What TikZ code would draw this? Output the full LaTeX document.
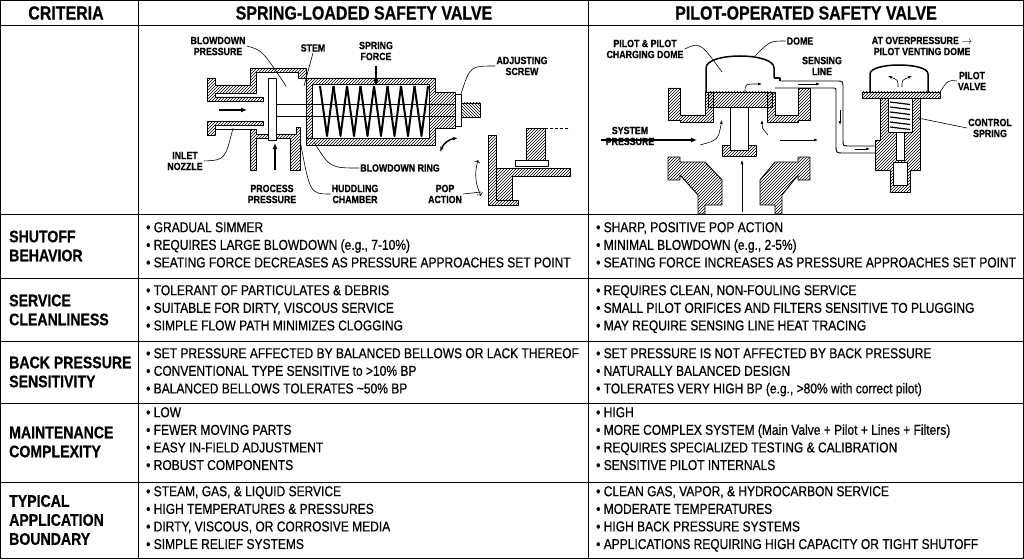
\documentclass[tikz,border=0pt]{standalone}
\usepackage{fontspec}
\setmainfont{Liberation Sans}[FakeStretch=0.84,FakeBold=0.6,BoldFeatures={FakeStretch=0.84}]
\usetikzlibrary{arrows.meta,patterns,positioning}
\tikzset{
  hdr/.style={font=\fontsize{19}{21}\selectfont\bfseries},
  crit/.style={font=\fontsize{16.8}{19}\selectfont\bfseries,align=left,anchor=west,inner sep=0pt},
  bul/.style={font=\fontsize{14.3}{17.6}\selectfont,align=left,anchor=north west,inner sep=0pt},
  lbl/.style={font=\fontsize{10.5}{11}\selectfont\bfseries,align=center,inner sep=1pt},
  hatch/.style={draw=black,line width=0.9pt,pattern=north east lines},
  ldr/.style={line width=0.6pt},
  flow/.style={-{Latex[length=6pt,width=5pt]},line width=1.6pt},
  thin/.style={-{Latex[length=4pt,width=3pt]},line width=0.6pt}
}
\begin{document}
\begin{tikzpicture}[x=1pt,y=-1pt,line join=round]
\useasboundingbox (0,0) rectangle (1024,559);
% grid
\draw[line width=1pt] (0.5,0.5) rectangle (1023.5,558.5);
\foreach \y in {26,214,278,341,403,482} \draw[line width=1pt] (0,\y) -- (1024,\y);
\draw[line width=1pt] (138,0) -- (138,559);
\draw[line width=1pt] (588,0) -- (588,559);
% header
\node[hdr] (h0) at (66,13) {CRITERIA};
\node[hdr] (h1) at (364,13) {SPRING-LOADED SAFETY VALVE};
\node[hdr] (h2) at (806,13) {PILOT-OPERATED SAFETY VALVE};
% criteria
\node[crit] (c1) at (9,246) {SHUTOFF\\BEHAVIOR};
\node[crit] (c2) at (9,310) {SERVICE\\CLEANLINESS};
\node[crit] (c3) at (9,372) {BACK PRESSURE\\SENSITIVITY};
\node[crit] (c4) at (9,442) {MAINTENANCE\\COMPLEXITY};
\node[crit] (c5) at (9,520) {TYPICAL\\APPLICATION\\BOUNDARY};
% spring-loaded column
\node[bul] (s1) at (146,222) {• GRADUAL SIMMER\\• REQUIRES LARGE BLOWDOWN (e.g., 7-10\%)\\• SEATING FORCE DECREASES AS PRESSURE APPROACHES SET POINT};
\node[bul] (s2) at (146,285) {• TOLERANT OF PARTICULATES \& DEBRIS\\• SUITABLE FOR DIRTY, VISCOUS SERVICE\\• SIMPLE FLOW PATH MINIMIZES CLOGGING};
\node[bul] (s3) at (146,348) {• SET PRESSURE AFFECTED BY BALANCED BELLOWS OR LACK THEREOF\\• CONVENTIONAL TYPE SENSITIVE to >10\% BP\\• BALANCED BELLOWS TOLERATES \textasciitilde50\% BP};
\node[bul] (s4) at (146,407) {• LOW\\• FEWER MOVING PARTS\\• EASY IN-FIELD ADJUSTMENT\\• ROBUST COMPONENTS};
\node[bul] (s5) at (146,486) {• STEAM, GAS, \& LIQUID SERVICE\\• HIGH TEMPERATURES \& PRESSURES\\• DIRTY, VISCOUS, OR CORROSIVE MEDIA\\• SIMPLE RELIEF SYSTEMS};
% pilot-operated column
\node[bul] (p1) at (596,222) {• SHARP, POSITIVE POP ACTION\\• MINIMAL BLOWDOWN (e.g., 2-5\%)\\• SEATING FORCE INCREASES AS PRESSURE APPROACHES SET POINT};
\node[bul] (p2) at (596,285) {• REQUIRES CLEAN, NON-FOULING SERVICE\\• SMALL PILOT ORIFICES AND FILTERS SENSITIVE TO PLUGGING\\• MAY REQUIRE SENSING LINE HEAT TRACING};
\node[bul] (p3) at (596,348) {• SET PRESSURE IS NOT AFFECTED BY BACK PRESSURE\\• NATURALLY BALANCED DESIGN\\• TOLERATES VERY HIGH BP (e.g., >80\% with correct pilot)};
\node[bul] (p4) at (596,407) {• HIGH\\• MORE COMPLEX SYSTEM (Main Valve + Pilot + Lines + Filters)\\• REQUIRES SPECIALIZED TESTING \& CALIBRATION\\• SENSITIVE PILOT INTERNALS};
\node[bul] (p5) at (596,486) {• CLEAN GAS, VAPOR, \& HYDROCARBON SERVICE\\• MODERATE TEMPERATURES\\• HIGH BACK PRESSURE SYSTEMS\\• APPLICATIONS REQUIRING HIGH CAPACITY OR TIGHT SHUTOFF};
% spring-loaded valve sketch
\draw[hatch] (207,78) -- (215,78) -- (215,85) -- (250,85) -- (250,68) -- (306,68) -- (306,78) -- (298,78) -- (298,72) -- (256,72) -- (256,93) -- (215,93) -- (215,97) -- (263,97) -- (263,101) -- (207,101) -- cycle;
\draw[hatch] (207,121) -- (263,121) -- (263,125) -- (215,125) -- (215,129) -- (250,129) -- (250,170) -- (256,170) -- (256,138) -- (290,138) -- (290,170) -- (300,170) -- (300,127) -- (296,127) -- (296,134) -- (256,134) -- (256,129) -- (215,129) -- (215,135) -- (207,135) -- cycle;
\draw[line width=0.9pt,fill=white] (268,78) rectangle (276,140);
\draw[line width=0.9pt,fill=white] (276,104) rectangle (455,116);
\draw[hatch] (306,78) -- (435,78) -- (435,92) -- (455,92) -- (455,128) -- (435,128) -- (435,145) -- (306,145) -- (306,138) -- (429,138) -- (429,84) -- (312,84) -- (312,138) -- (306,138) -- cycle;
\foreach \i in {0,...,7}
  \draw[line width=2pt] (320+13.5*\i,86) -- (327+13.5*\i,136) -- (333.5+13.5*\i,86);
\draw[line width=0.9pt,fill=white] (455,94) rectangle (461,126);
\draw[line width=0.9pt,pattern=north west lines] (461,103) rectangle (480,117);
\draw[flow] (219,110) -- (247,110);
\draw[flow] (275,170) -- (275,143);
\draw[flow] (376,66) -- (376,86);
\draw[{Latex[length=5pt]}-{Latex[length=5pt]},line width=1.5pt] (440,152) to[bend left=30] (458,138);
% pop action inset
\draw[hatch] (488,135) -- (496,135) -- (496,200) -- (518,200) -- (518,205) -- (488,205) -- cycle;
\draw[hatch] (496,168) -- (570,168) -- (570,176) -- (512,176) -- (512,200) -- (496,200) -- cycle;
\draw[hatch] (526,128) -- (545,128) -- (545,160) -- (526,160) -- cycle;
\draw[line width=0.9pt,fill=white] (515,160) rectangle (548,166);
\draw[line width=0.6pt,densely dashed] (545,128) -- (570,128);
\draw[thin,<->] (478,160) to[bend right=20] (481,196);
% spring-loaded labels
\node[lbl] (bp) at (218,46) {BLOWDOWN\\PRESSURE};
\node[lbl] (st) at (313,48) {STEM};
\node[lbl] (sf) at (376,51) {SPRING\\FORCE};
\node[lbl] (as) at (522,66) {ADJUSTING\\SCREW};
\node[lbl] (in) at (185,161) {INLET\\NOZZLE};
\node[lbl] (pp) at (272,194) {PROCESS\\PRESSURE};
\node[lbl] (hc) at (355,194) {HUDDLING\\CHAMBER};
\node[lbl] (br) at (400,168) {BLOWDOWN RING};
\node[lbl] (pa) at (445,194) {POP\\ACTION};
\coordinate (bpE) at (286,86);
\coordinate (stE) at (304,86);
\coordinate (asE) at (461,94);
\coordinate (inE) at (233,128);
\coordinate (hcE) at (300,140);
\coordinate (brE) at (314,142);
\coordinate (paE) at (481,192);
\draw[ldr] (bp.east) .. controls (262,50) .. (bpE);
\draw[ldr] (st.south) -- (stE);
\draw[ldr] (as.west) .. controls (470,66) .. (asE);
\draw[ldr] (in.east) .. controls (225,160) .. (inE);
\draw[ldr] (hc.west) .. controls (310,194) .. (hcE);
\draw[ldr] (br.west) .. controls (330,168) .. (brE);
\draw[ldr] (pa.east) -- (paE);
% pilot-operated valve sketch
\draw[hatch] (668,88) -- (680,88) -- (680,115) -- (705,115) -- (705,92) -- (713,92) -- (713,122) -- (680,122) -- (680,120) -- (668,120) -- cycle;
\draw[hatch] (810,88) -- (798,88) -- (798,115) -- (775,115) -- (775,92) -- (767,92) -- (767,122) -- (798,122) -- (798,120) -- (810,120) -- cycle;
\draw[hatch] (668,157) -- (680,157) -- (680,162) -- (705,162) -- (722,180) -- (722,205) -- (705,205) -- (705,214) -- (698,214) -- (698,195) -- (680,175) -- (680,180) -- (668,180) -- cycle;
\draw[hatch] (810,157) -- (798,157) -- (798,162) -- (775,162) -- (760,180) -- (760,205) -- (775,205) -- (775,214) -- (782,214) -- (782,195) -- (798,175) -- (798,180) -- (810,180) -- cycle;
\draw[hatch] (708,92) rectangle (772,107);
\draw[line width=0.9pt,fill=white] (730,107) rectangle (748,150);
\draw[hatch] (722,145) -- (730,145) -- (730,150) -- (748,150) -- (748,145) -- (756,145) -- (756,156) -- (722,156) -- cycle;
\draw[line width=1.5pt] (706,92) -- (706,68) .. controls (706,52) and (774,52) .. (774,68) -- (774,78);
\draw[line width=1.5pt] (774,78) -- (780,78) -- (780,81);
\draw[line width=0.9pt] (780,81) -- (836,81) .. controls (843,81) .. (843,88) -- (843,140) .. controls (843,146) .. (849,146) -- (876,146);
\draw[line width=0.9pt] (775,88) -- (832,88) .. controls (836,88) .. (836,92) -- (836,145) .. controls (836,153) .. (844,153) -- (876,153);
\draw[thin] (745,92) .. controls (745,84) .. (762,84);
\draw[thin] (798,84) -- (820,84);
\draw[thin] (840,110) -- (840,125);
\draw[thin] (855,149) -- (870,149);
\draw[flow] (601,140) -- (697,140);
\draw[thin] (700,145) .. controls (718,140) .. (722,120);
\draw[thin] (768,135) .. controls (762,128) .. (762,120);
\draw[thin] (780,140) -- (818,140);
\draw[thin] (742,212) -- (742,160);
% pilot valve
\draw[line width=1.5pt] (870,92) -- (870,74) .. controls (870,62) and (928,62) .. (928,74) -- (928,92);
\draw[hatch] (862,92) rectangle (940,98);
\draw[hatch] (880,98) -- (920,98) -- (920,170) -- (910,170) -- (910,192) -- (890,192) -- (890,170) -- (875,170) -- (875,140) -- (880,140) -- cycle;
\draw[line width=0.9pt,fill=white] (888,98) rectangle (912,132);
\foreach \i in {0,...,5}
  \draw[line width=1.2pt] (890,102+5*\i) -- (910,104.5+5*\i);
\draw[line width=0.9pt,fill=white] (896,132) rectangle (904,160);
\draw[line width=0.9pt,fill=white] (893,162) rectangle (907,185);
\draw[thin] (898,87) .. controls (898,80) .. (888,76);
\draw[thin] (902,87) .. controls (902,80) .. (912,76);
% pilot-operated labels
\node[lbl] (pd) at (645,49) {PILOT \& PILOT\\CHARGING DOME};
\node[lbl] (dm) at (800,41) {DOME};
\node[lbl] (sl) at (822,66) {SENSING\\LINE};
\node[lbl] (ov) at (922,46) {AT OVERPRESSURE $\rightarrow$\\PILOT VENTING DOME};
\node[lbl] (pv) at (972,81) {PILOT\\VALVE};
\node[lbl] (cs) at (990,128) {CONTROL\\SPRING};
\node[lbl] (sp) at (630,136) {SYSTEM\\PRESSURE};
\coordinate (pdE) at (722,72);
\coordinate (dmE) at (755,56);
\coordinate (pvE) at (940,92);
\coordinate (csE) at (918,118);
\draw[ldr] (pd.east) .. controls (700,42) .. (pdE);
\draw[ldr] (dm.west) .. controls (770,41) .. (dmE);
\draw[ldr] (pv.west) .. controls (948,80) .. (pvE);
\draw[ldr] (cs.west) -- (csE);
\end{tikzpicture}
\end{document}
